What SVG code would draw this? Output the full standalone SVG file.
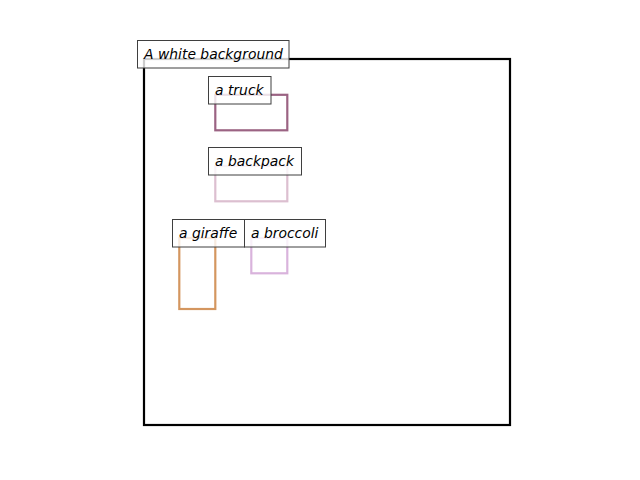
<svg xmlns="http://www.w3.org/2000/svg" width="640" height="480" viewBox="0 0 640 480">
<style>
.box{fill:none;stroke-width:2.2}
.lbl rect{fill:#fff;fill-opacity:0.8;stroke:#3f3f3f;stroke-width:1}
.lbl text{font-family:"DejaVu Sans",sans-serif;font-style:oblique;font-size:13.9px;fill:#000}
</style>
<rect width="640" height="480" fill="#fff"/>
<g id="connectors"/>
<g id="background-frame"><rect class="box" x="144" y="59" width="366" height="366" stroke="#000"/></g>
<g id="truck"><rect class="box" x="215.3" y="94.8" width="72" height="35.5" stroke="#9b6383"/></g>
<g id="backpack"><rect class="box" x="215.3" y="166" width="72" height="35.3" stroke="#dcbfd0"/></g>
<g id="giraffe"><rect class="box" x="179.3" y="238" width="36" height="71" stroke="#d4965f"/></g>
<g id="broccoli"><rect class="box" x="251.3" y="238" width="36" height="35.3" stroke="#d9b3dc"/></g>
<g class="lbl" id="label-background"><rect x="137.5" y="40.5" width="151.5" height="27.5"/><text x="144" y="58.5">A white background</text></g>
<g class="lbl" id="label-truck"><rect x="208.5" y="76.5" width="62.5" height="27.5"/><text x="215" y="94.5">a truck</text></g>
<g class="lbl" id="label-backpack"><rect x="208.5" y="147.5" width="93" height="27.5"/><text x="215" y="165.5">a backpack</text></g>
<g class="lbl" id="label-giraffe"><rect x="172.5" y="219.5" width="72" height="27.5"/><text x="179" y="237.5">a giraffe</text></g>
<g class="lbl" id="label-broccoli"><rect x="244.5" y="219.5" width="81" height="27.5"/><text x="251" y="237.5">a broccoli</text></g>
</svg>
